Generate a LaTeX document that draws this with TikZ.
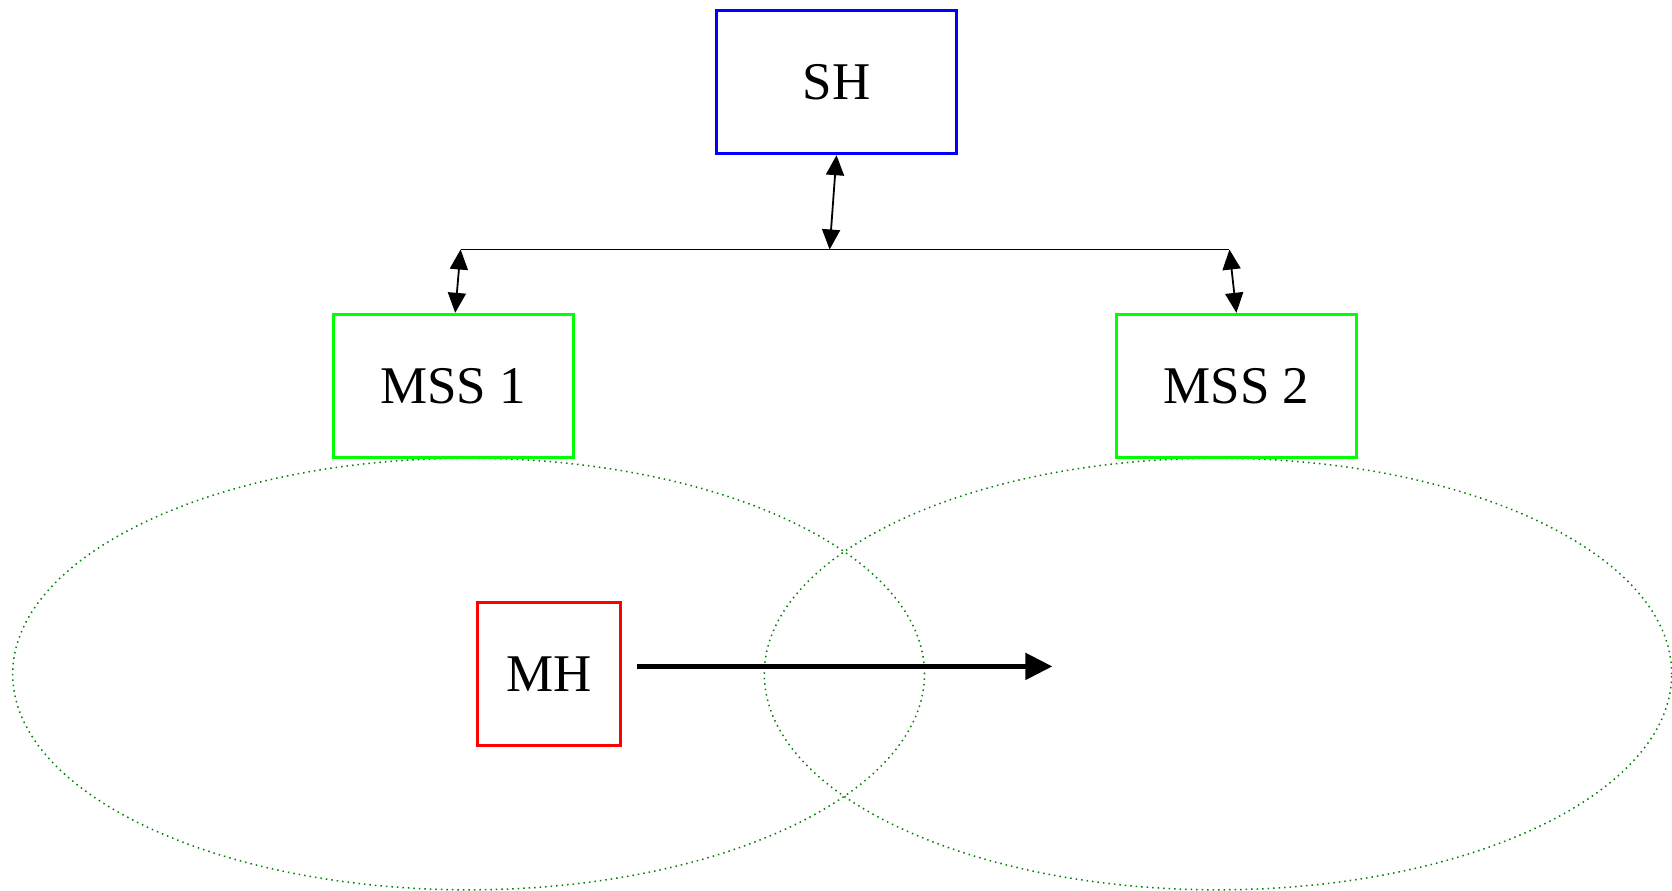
\documentclass[tikz,border=0pt]{standalone}
\usepackage{fontspec}
\setmainfont{Liberation Serif}
\usetikzlibrary{arrows.meta}
\definecolor{mgreen}{RGB}{0,255,0}
\definecolor{dgreen}{RGB}{0,128,0}
\begin{document}
\begin{tikzpicture}[x=0.5pt,y=-0.5pt,
  box/.style={draw,line width=1.7pt,minimum width=120pt,minimum height=71.5pt,inner sep=0pt,
    font=\fontsize{26.5pt}{30pt}\selectfont},
  link/.style={line width=0.9pt,{Triangle[length=10pt,width=9pt]}-{Triangle[length=10pt,width=9pt]}},
  zone/.style={draw=dgreen,line width=0.75pt,dotted}]
\useasboundingbox (0,0) rectangle (1672,890);
\draw[zone] (468.6,674) ellipse [x radius=455.9pt/2, y radius=215.8pt/2];
\draw[zone] (1218,674) ellipse [x radius=453.7pt/2, y radius=215.8pt/2];
\node[box,draw=blue] (SH) at (836.5,82) {SH};
\node[box,draw=mgreen] (MSS1) at (453.2,386) {MSS 1};
\node[box,draw=mgreen] (MSS2) at (1236.4,386) {MSS 2};
\node[box,draw=red,minimum width=71.5pt] (MH) at (549,674) {MH};
\coordinate (busL) at (460.6,249.5);
\coordinate (busM) at (829.6,249.5);
\coordinate (busR) at (1229.4,249.5);
\coordinate (mhEnd) at (1052.4,666.4);
\draw[line width=0.9pt] (busL) -- (busR);
\draw[link] (SH.south) -- (busM);
\draw[link] (busL) -- ([xshift=1pt]MSS1.north);
\draw[link] (busR) -- (MSS2.north);
\draw[line width=2.5pt,-{Triangle[length=13.5pt,width=13pt]}] ([shift={(7.5pt,3.8pt)}]MH.east) -- (mhEnd);
\end{tikzpicture}
\end{document}
